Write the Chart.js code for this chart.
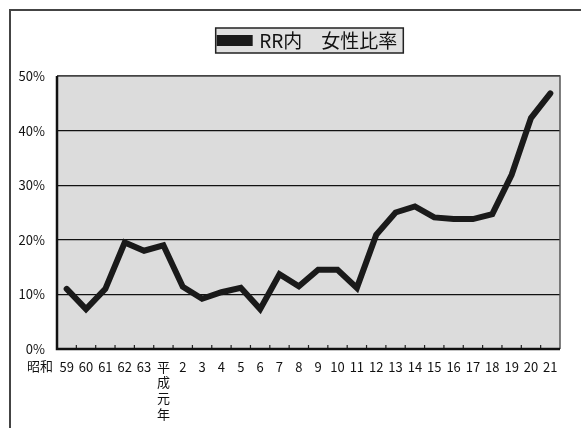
<!DOCTYPE html>
<html>
<head>
<meta charset="utf-8">
<script src="https://cdn.jsdelivr.net/npm/chart.js@4"></script>
<style>
  html, body { margin: 0; padding: 0; background: #fff; }
  #wrap { position: relative; width: 581px; height: 428px; }
</style>
</head>
<body>
<div id="wrap"><canvas id="womenChart" width="581" height="428"></canvas></div>
<script>
// categories (years) and the series
var years = ["59", "60", "61", "62", "63", ["平", "成", "元", "年"], "2", "3", "4", "5", "6", "7", "8", "9", "10",
             "11", "12", "13", "14", "15", "16", "17", "18", "19", "20", "21"];
var femaleRatio = [11.0, 7.3, 11.0, 19.5, 18.0, 19.0, 11.4, 9.2, 10.4, 11.2, 7.3, 13.7, 11.5, 14.5, 14.5,
                   11.2, 20.9, 25.0, 26.1, 24.1, 23.8, 23.8, 24.7, 31.9, 42.3, 46.8];
var yTicks = [0, 10, 20, 30, 40, 50];
var seriesName = "RR内\u3000女性比率";
var eraLabel = "昭和";

var FONT = "'Noto Sans CJK JP', sans-serif";

// background, frame, inner ticks, legend box, era label
var decor = {
    id: 'decor',
    beforeInit: function(chart) {
        // empty box between the legend and the plot
        Chart.layouts.addBox(chart, {
            position: 'top',
            weight: 500,
            fullSize: true,
            options: {},
            update: function(maxWidth) { this.width = maxWidth; this.height = 16; },
            isHorizontal: function() { return true; },
            draw: function() {}
        });
    },
    beforeDraw: function(chart) {
        var ctx = chart.ctx, a = chart.chartArea;
        ctx.save();
        ctx.fillStyle = '#fff';
        ctx.fillRect(0, 0, chart.width, chart.height);
        // page frame (top + left)
        ctx.strokeStyle = '#444';
        ctx.lineWidth = 2;
        ctx.beginPath();
        ctx.moveTo(10, chart.height);
        ctx.lineTo(10, 10);
        ctx.lineTo(chart.width, 10);
        ctx.stroke();
        // plot background
        ctx.fillStyle = '#dcdcdc';
        ctx.fillRect(a.left, a.top, a.right - a.left, a.bottom - a.top);
        // legend box
        var lg = chart.legend;
        if (lg && lg.legendHitBoxes && lg.legendHitBoxes.length) {
            var hb = lg.legendHitBoxes[0];
            var x0 = hb.left - 4, y0 = hb.top - 3, w = hb.width + 10, h = hb.height + 6;
            ctx.fillStyle = '#e0e0e0';
            ctx.fillRect(x0, y0, w, h);
            ctx.strokeStyle = '#222';
            ctx.lineWidth = 1.5;
            ctx.strokeRect(x0, y0, w, h);
        }
        ctx.restore();
    },
    beforeDatasetsDraw: function(chart) {
        var ctx = chart.ctx, a = chart.chartArea, xs = chart.scales.x;
        ctx.save();
        // small ticks between categories, pointing inward
        ctx.strokeStyle = '#222';
        ctx.lineWidth = 1.2;
        ctx.beginPath();
        for (var i = 1; i < years.length; i++) {
            var px = (xs.getPixelForValue(i - 1) + xs.getPixelForValue(i)) / 2;
            ctx.moveTo(px, a.bottom);
            ctx.lineTo(px, a.bottom - 4);
        }
        ctx.stroke();
        // plot frame
        ctx.strokeStyle = '#555';
        ctx.lineWidth = 1.5;
        ctx.beginPath();
        ctx.moveTo(a.left, a.top);
        ctx.lineTo(a.right, a.top);
        ctx.lineTo(a.right, a.bottom);
        ctx.stroke();
        ctx.strokeStyle = '#111';
        ctx.lineWidth = 2.5;
        ctx.beginPath();
        ctx.moveTo(a.left, a.top);
        ctx.lineTo(a.left, a.bottom);
        ctx.lineTo(a.right, a.bottom);
        ctx.stroke();
        ctx.restore();
    },
    afterDraw: function(chart) {
        var ctx = chart.ctx, a = chart.chartArea;
        ctx.save();
        ctx.fillStyle = '#111';
        ctx.font = '13px ' + FONT;
        ctx.textAlign = 'right';
        ctx.textBaseline = 'middle';
        ctx.fillText(eraLabel, a.left - 4, a.bottom + 17);
        ctx.restore();
    }
};

var ctx = document.getElementById('womenChart').getContext('2d');

var myChart = new Chart(ctx, {
    type: 'line',
    data: {
        labels: years,
        datasets: [{
            label: seriesName,
            data: femaleRatio,
            borderColor: '#1a1a1a',
            backgroundColor: '#1a1a1a',
            borderWidth: 6,
            borderCapStyle: 'round',
            borderJoinStyle: 'miter',
            pointRadius: 0,
            tension: 0
        }]
    },
    options: {
        responsive: false,
        animation: false,
        layout: { padding: { top: 31, right: 21, left: 0, bottom: 0 } },
        plugins: {
            legend: {
                position: 'top',
                fullSize: false,
                labels: {
                    boxWidth: 30,
                    boxHeight: 5,
                    padding: 0,
                    color: '#111',
                    font: { size: 19, family: FONT }
                }
            },
            tooltip: { enabled: false }
        },
        scales: {
            x: {
                offset: true,
                grid: { display: false, drawTicks: false },
                border: { display: false },
                afterFit: function(scale) { scale.height = 79; },
                ticks: {
                    color: '#111',
                    padding: 10,
                    maxRotation: 0,
                    autoSkip: false,
                    font: { size: 13, family: FONT, lineHeight: 1.2 }
                }
            },
            y: {
                min: 0,
                max: 50,
                afterFit: function(scale) { scale.width = 57; },
                afterBuildTicks: function(scale) {
                    scale.ticks = yTicks.map(function(v) { return { value: v }; });
                },
                grid: { color: '#111', lineWidth: 1.2, drawTicks: false },
                border: { display: false },
                ticks: {
                    color: '#111',
                    padding: 12,
                    font: { size: 13, family: FONT },
                    callback: function(v) { return v + '%'; }
                }
            }
        }
    },
    plugins: [decor]
});
</script>
</body>
</html>
